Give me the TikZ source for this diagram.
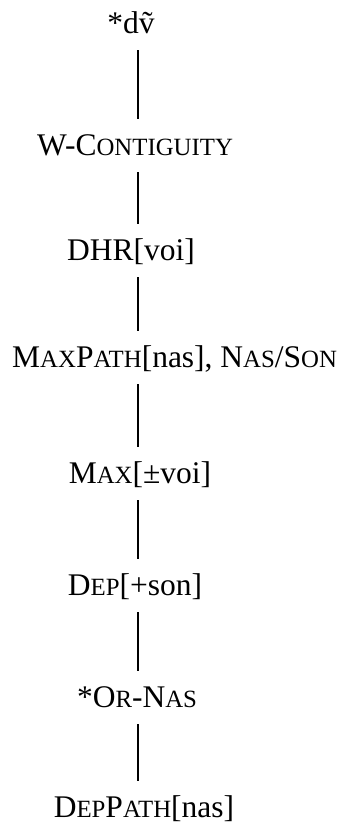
\documentclass[tikz,border=0pt]{standalone}
\usepackage{fontspec}
\setmainfont{Liberation Serif}
\usetikzlibrary{positioning}
\newcommand{\fsc}[1]{{\fontsize{24.8}{27}\selectfont\uppercase{#1}}}

\begin{document}
\begin{tikzpicture}[x=1pt,y=1pt,every node/.style={font=\fontsize{31.5}{35}\selectfont,anchor=base,inner sep=0pt,text height=21pt,text depth=5pt},link/.style={line width=1.2pt,shorten <=12pt,shorten >=15pt}]
\useasboundingbox (0,0) rectangle (348,-823);
\coordinate (spine) at (138,0);
\node (cand) at (131,-33) {*d\~{v}};
\node (wcont) at (135,-155) {W-C\fsc{ontiguity}};
\node (dhr) at (131,-260) {DHR[voi]};
\node[anchor=base west] (maxpath) at (12,-367) {M\fsc{ax}P\fsc{ath}[nas], N\fsc{as}/S\fsc{on}};
\node (maxvoi) at (140,-483) {M\fsc{ax}[±voi]};
\node (depson) at (135,-595) {D\fsc{ep}[+son]};
\node (ornas) at (137,-707) {*O\fsc{r}-N\fsc{as}};
\node (deppath) at (144,-817) {D\fsc{ep}P\fsc{ath}[nas]};
\draw[link] (cand.south -| spine)--(wcont.north -| spine);
\draw[link] (wcont.south -| spine)--(dhr.north -| spine);
\draw[link] (dhr.south -| spine)--(maxpath.north -| spine);
\draw[link] (maxpath.south -| spine)--(maxvoi.north -| spine);
\draw[link] (maxvoi.south -| spine)--(depson.north -| spine);
\draw[link] (depson.south -| spine)--(ornas.north -| spine);
\draw[link] (ornas.south -| spine)--(deppath.north -| spine);
\end{tikzpicture}
\end{document}
